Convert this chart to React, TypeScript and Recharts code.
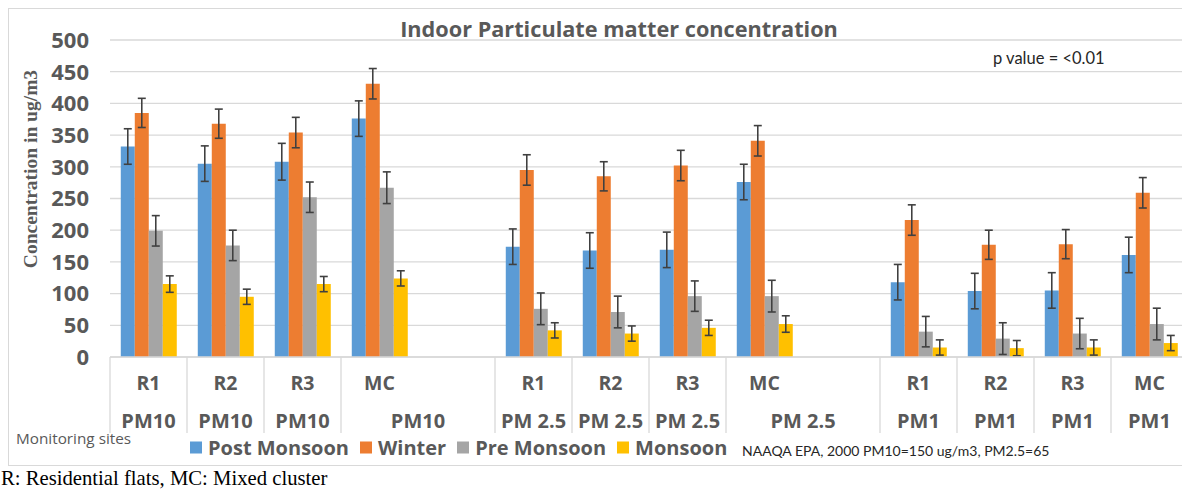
import React from 'react'
import { BarChart, Bar, XAxis, YAxis, CartesianGrid, ErrorBar } from 'recharts'

// categories (blank slots are the gaps after each MC cluster)
const sites = ['R1', 'R2', 'R3', 'MC', '', 'R1', 'R2', 'R3', 'MC', '', 'R1', 'R2', 'R3', 'MC']
const pollutants = ['PM10', 'PM10', 'PM10', 'PM10', '', 'PM 2.5', 'PM 2.5', 'PM 2.5', 'PM 2.5', '', 'PM1', 'PM1', 'PM1', 'PM1']

const postMonsoon = [332, 305, 308, 376, null, 174, 168, 169, 276, null, 118, 104, 105, 161]
const postMonsoonErr = [28, 28, 29, 28, null, 28, 28, 28, 28, null, 28, 28, 28, 28]
const winter = [385, 368, 354, 431, null, 295, 285, 302, 341, null, 216, 177, 178, 259]
const winterErr = [23, 23, 24, 24, null, 24, 23, 24, 24, null, 24, 23, 23, 24]
const preMonsoon = [199, 176, 252, 267, null, 76, 71, 96, 96, null, 40, 29, 37, 52]
const preMonsoonErr = [24, 24, 24, 25, null, 25, 25, 24, 25, null, 24, 25, 24, 25]
const monsoon = [115, 95, 115, 124, null, 42, 37, 46, 52, null, 15, 14, 15, 22]
const monsoonErr = [13, 12, 12, 12, null, 12, 12, 12, 13, null, 12, 12, 12, 12]

const yTicks = [0, 50, 100, 150, 200, 250, 300, 350, 400, 450, 500]

const series = [
  { key: 'post', err: 'postErr', name: 'Post Monsoon', color: '#5B9BD5' },
  { key: 'winter', err: 'winterErr', name: 'Winter', color: '#ED7D31' },
  { key: 'pre', err: 'preErr', name: 'Pre Monsoon', color: '#A5A5A5' },
  { key: 'monsoon', err: 'monsoonErr', name: 'Monsoon', color: '#FFC000' }
]

const data = sites.map((site, i) => ({
  site,
  pm: pollutants[i],
  post: postMonsoon[i],
  postErr: postMonsoonErr[i],
  winter: winter[i],
  winterErr: winterErr[i],
  pre: preMonsoon[i],
  preErr: preMonsoonErr[i],
  monsoon: monsoon[i],
  monsoonErr: monsoonErr[i]
}))

const CHART_W = 1200
const PLOT_LEFT = 110
const PLOT_RIGHT = 1188
const SLOT = (PLOT_RIGHT - PLOT_LEFT) / sites.length
const BOLD_FONT = '"Open Sans", Lato, sans-serif'
const FONT = 'Lato, "Open Sans", sans-serif'
const SERIF = '"Liberation Serif", "Times New Roman", serif'
const GREY = '#595959'

function CategoryTick(props: any) {
  const { x, y, index } = props
  const half = SLOT / 2
  const site = sites[index]
  if (!site) return null
  const spansNext = index + 1 < sites.length && sites[index + 1] === ''
  const pmX = spansNext ? x + half : x
  return (
    <g>
      <line x1={x - half} y1={y} x2={x - half} y2={y + 76} stroke='#d9d9d9' strokeWidth={1.3} />
      <text x={x} y={y + 25} textAnchor='middle' dominantBaseline='central' fontSize={19.5} fontWeight='bold' fill={GREY} fontFamily={BOLD_FONT}>
        {site}
      </text>
      <text x={pmX} y={y + 63} textAnchor='middle' dominantBaseline='central' fontSize={20} fontWeight='bold' fill={GREY} fontFamily={BOLD_FONT}>
        {pollutants[index]}
      </text>
    </g>
  )
}

export default function App() {
  return (
    <div style={{ position: 'absolute', left: 0, top: 0, width: 1182, height: 489, overflow: 'hidden', background: '#fff', fontFamily: FONT }}>
      <div style={{ position: 'absolute', left: 8, top: 8, width: 1200, height: 456, border: '1.5px solid #d9d9d9' }} />
      <div style={{ position: 'absolute', left: 0, top: 0 }}>
        <BarChart
          width={CHART_W}
          height={489}
          data={data}
          margin={{ top: 40, right: CHART_W - PLOT_RIGHT, left: 10, bottom: 0 }}
          barCategoryGap='14%'
          barGap={0}
        >
          <CartesianGrid vertical={false} stroke='#d9d9d9' strokeWidth={1.3} />
          <XAxis
            dataKey='site'
            height={132}
            interval={0}
            tickSize={0}
            tickMargin={0}
            tickLine={false}
            axisLine={{ stroke: '#d9d9d9', strokeWidth: 1.3 }}
            tick={<CategoryTick />}
          />
          <YAxis
            width={100}
            domain={[0, 500]}
            ticks={yTicks}
            axisLine={false}
            tickLine={false}
            tickSize={0}
            tickMargin={21}
            tick={{ fontSize: 22, fontWeight: 'bold', fill: GREY, fontFamily: BOLD_FONT }}
          />
          {series.map((s) => (
            <Bar key={s.key} dataKey={s.key} fill={s.color} isAnimationActive={false}>
              <ErrorBar dataKey={s.err} width={4} stroke='#404040' strokeWidth={1.6} direction='y' />
            </Bar>
          ))}
        </BarChart>
      </div>

      <div style={{ position: 'absolute', left: 619, top: 28, transform: 'translate(-50%, -50%)', fontFamily: BOLD_FONT, fontSize: 21.7, fontWeight: 'bold', color: GREY, whiteSpace: 'nowrap' }}>
        Indoor Particulate matter concentration
      </div>
      <div style={{ position: 'absolute', left: 993, top: 58, transform: 'translateY(-50%)', fontSize: 16.5, color: '#262626', whiteSpace: 'nowrap' }}>
        p value = &lt;0.01
      </div>
      <div
        style={{
          position: 'absolute',
          left: 31,
          top: 169,
          transform: 'translate(-50%, -50%) rotate(-90deg)',
          fontFamily: SERIF,
          fontWeight: 'bold',
          fontSize: 19.5,
          color: GREY,
          whiteSpace: 'nowrap'
        }}
      >
        Concentration in ug/m3
      </div>

      <div style={{ position: 'absolute', left: 16, top: 438, transform: 'translateY(-50%)', fontFamily: BOLD_FONT, fontSize: 15.3, color: GREY, whiteSpace: 'nowrap' }}>
        Monitoring sites
      </div>
      <div style={{ position: 'absolute', left: 190, top: 447, transform: 'translateY(-50%)', display: 'flex', alignItems: 'center', gap: 11 }}>
        {series.map((s) => (
          <div key={s.key} style={{ display: 'flex', alignItems: 'center', gap: 6 }}>
            <div style={{ width: 12, height: 12, background: s.color }} />
            <span style={{ fontFamily: BOLD_FONT, fontSize: 20, fontWeight: 'bold', color: GREY, whiteSpace: 'nowrap' }}>{s.name}</span>
          </div>
        ))}
      </div>
      <div style={{ position: 'absolute', left: 742, top: 450, transform: 'translateY(-50%)', fontSize: 14, color: '#262626', whiteSpace: 'nowrap' }}>
        NAAQA EPA, 2000 PM10=150 ug/m3, PM2.5=65
      </div>
      <div
        style={{
          position: 'absolute',
          left: 1,
          top: 478,
          transform: 'translateY(-50%)',
          fontFamily: SERIF,
          fontSize: 20.7,
          color: '#000',
          whiteSpace: 'nowrap'
        }}
      >
        R: Residential flats, MC: Mixed cluster
      </div>
    </div>
  )
}
